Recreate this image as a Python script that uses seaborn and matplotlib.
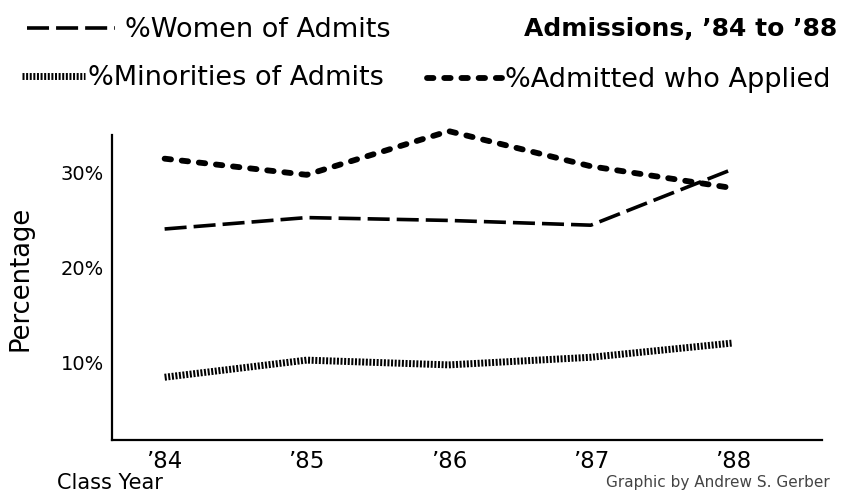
import pandas as pd
import seaborn as sns
import matplotlib.pyplot as plt
from matplotlib.lines import Line2D

years = [84, 85, 86, 87, 88]
year_labels = ['\u201984', '\u201985', '\u201986', '\u201987', '\u201988']
women = [24.1, 25.3, 25.0, 24.5, 30.4]
minorities = [8.5, 10.3, 9.8, 10.6, 12.1]
admitted = [31.5, 29.8, 34.4, 30.7, 28.4]
y_ticks = [10, 20, 30]
y_tick_labels = ['10%', '20%', '30%']

sns.set_style('white')
plt.rcParams['font.family'] = ['DejaVu Sans']
plt.rcParams['text.color'] = 'black'
plt.rcParams['axes.labelcolor'] = 'black'
plt.rcParams['xtick.color'] = 'black'
plt.rcParams['ytick.color'] = 'black'

data = pd.DataFrame({'Year': years, 'Women': women,
                     'Minorities': minorities, 'Admitted': admitted})

# line looks (dash lengths in units of line width)
women_style = dict(color='black', linewidth=2.6, linestyle=(0, (6.1, 1.95)))
minor_style = dict(color='black', linewidth=5.0, linestyle=(0, (0.29, 0.23)))
admit_style = dict(color='black', linewidth=4.2, linestyle=(0, (1.1, 1.85)),
                   dash_capstyle='round')

fig = plt.figure(figsize=(8.62, 4.96), dpi=100)
ax = fig.add_axes([0.130, 0.113, 0.824, 0.615])

sns.lineplot(data=data, x='Year', y='Minorities', ax=ax, **minor_style)
sns.lineplot(data=data, x='Year', y='Women', ax=ax, **women_style)
sns.lineplot(data=data, x='Year', y='Admitted', ax=ax, clip_on=False, **admit_style)

ax.set_xlim(83.63, 88.63)
ax.set_ylim(1.9, 34.0)
ax.set_xticks(years)
ax.set_xticklabels(year_labels, fontsize=16.5)
ax.set_yticks(y_ticks)
ax.set_yticklabels(y_tick_labels, fontsize=14)
ax.tick_params(axis='x', length=0, pad=7)
ax.tick_params(axis='y', length=0, pad=6)

sns.despine(ax=ax)
for side in ['left', 'bottom']:
    ax.spines[side].set_linewidth(1.6)
    ax.spines[side].set_color('black')

ax.set_ylabel('Percentage', fontsize=18.5)
ax.yaxis.set_label_coords(-0.111, 0.531)
ax.set_xlabel('Class Year', fontsize=15, ha='left', va='center')
ax.xaxis.set_label_coords(-0.077, -0.141)

# legend entries, each placed on its own
def put_legend(style, label, x, y, hl, pad):
    h = Line2D([], [], **style)
    fig.legend(handles=[h], labels=[label], loc='center left',
               bbox_to_anchor=(x / 862, 1 - y / 496), frameon=False,
               borderpad=0, borderaxespad=0, handlelength=hl,
               handletextpad=pad, fontsize=19.5)

put_legend(women_style, '%Women of Admits', 27, 30, 3.25, 0.37)
put_legend(minor_style, '%Minorities of Admits', 22, 78, 2.32, 0.11)
put_legend(admit_style, '%Admitted who Applied', 427, 80, 2.77, 0.11)

fig.suptitle('Admissions, \u201984 to \u201988', x=837 / 862, y=1 - 29 / 496,
             ha='right', va='center', fontsize=18, fontweight='bold')
fig.text(830 / 862, 1 - 483 / 496, 'Graphic by Andrew S. Gerber',
         ha='right', va='center', fontsize=11, color='#444444')

fig.savefig('out.png', dpi=100)
